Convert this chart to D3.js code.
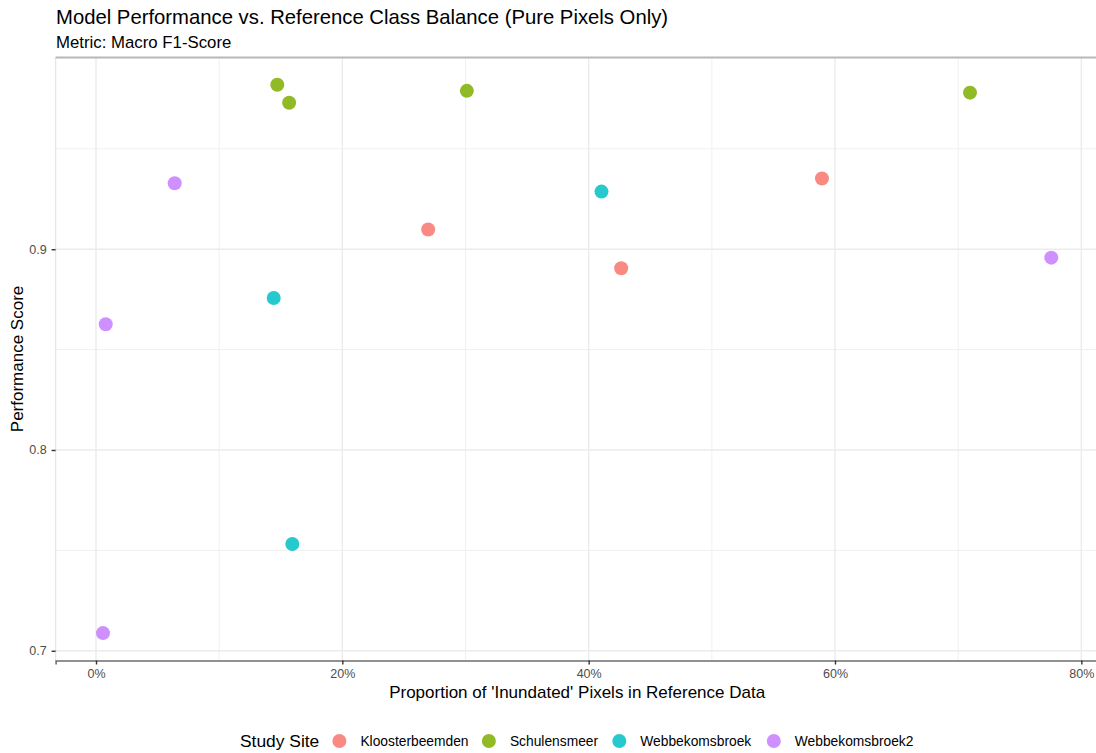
<!DOCTYPE html>
<html>
<head>
<meta charset="utf-8">
<script src="https://cdn.jsdelivr.net/npm/d3@7"></script>
<style>
  body { margin: 0; background: #fff; }
  svg { font-family: "Liberation Sans", Arial, sans-serif; }
</style>
</head>
<body>
<div class="scatter"></div>
<script>
// study sites and their runs: share of inundated reference pixels vs macro F1
var sites = ["Kloosterbeemden", "Schulensmeer", "Webbekomsbroek", "Webbekomsbroek2"];

var kloosterX = [0.2697, 0.4264, 0.5894];
var kloosterY = [0.9098, 0.8905, 0.9352];

var schulensX = [0.1472, 0.1568, 0.3011, 0.7096];
var schulensY = [0.9819, 0.9730, 0.9789, 0.9780];

var webbeX = [0.4104, 0.1443, 0.1594];
var webbeY = [0.9287, 0.8757, 0.7532];

var webbe2X = [0.0639, 0.0079, 0.0057, 0.7756];
var webbe2Y = [0.9329, 0.8626, 0.7088, 0.8958];

var xTicks = [0, 0.2, 0.4, 0.6, 0.8];
var xMinor = [0.1, 0.3, 0.5, 0.7];
var yTicks = [0.7, 0.8, 0.9];
var yMinor = [0.75, 0.85, 0.95];

var width = 1096,
    height = 753,
    panel = {left: 55.6, right: 1098.7, top: 57.4, bottom: 660.5};

var points = [];
[[kloosterX, kloosterY], [schulensX, schulensY], [webbeX, webbeY], [webbe2X, webbe2Y]]
    .forEach(function(s, i) {
        s[0].forEach(function(v, j) {
            points.push({site: sites[i], x: v, y: s[1][j]});
        });
    });

// ggplot style 5% expansion
function expand(ext) {
    var pad = (ext[1] - ext[0]) * 0.05;
    return [ext[0] - pad, ext[1] + pad];
}

var x = d3.scaleLinear()
    .domain(expand(d3.extent(points, function(d) { return d.x; })))
    .range([panel.left, panel.right]);

var y = d3.scaleLinear()
    .domain(expand(d3.extent(points, function(d) { return d.y; })))
    .range([panel.bottom, panel.top]);

var color = d3.scaleOrdinal()
    .domain(sites)
    .range(["#F8766D", "#7CAE00", "#00BFC4", "#C77CFF"]);

var svg = d3.select(".scatter")
    .append("svg")
    .attr("width", width)
    .attr("height", height);

// grid
var grid = svg.append("g");
grid.selectAll(".xminor").data(xMinor).enter().append("line")
    .attr("x1", x).attr("x2", x)
    .attr("y1", panel.top).attr("y2", panel.bottom)
    .attr("stroke", "#f0f0f0").attr("stroke-width", 1);
grid.selectAll(".yminor").data(yMinor).enter().append("line")
    .attr("y1", y).attr("y2", y)
    .attr("x1", panel.left).attr("x2", panel.right)
    .attr("stroke", "#f0f0f0").attr("stroke-width", 1);
grid.selectAll(".xmajor").data(xTicks).enter().append("line")
    .attr("x1", x).attr("x2", x)
    .attr("y1", panel.top).attr("y2", panel.bottom)
    .attr("stroke", "#ebebeb").attr("stroke-width", 1.4);
grid.selectAll(".ymajor").data(yTicks).enter().append("line")
    .attr("y1", y).attr("y2", y)
    .attr("x1", panel.left).attr("x2", panel.right)
    .attr("stroke", "#ebebeb").attr("stroke-width", 1.4);

// panel edges
svg.append("line")
    .attr("x1", panel.left).attr("x2", panel.left)
    .attr("y1", panel.top).attr("y2", panel.bottom)
    .attr("stroke", "#e6e6e6").attr("stroke-width", 1.4);
svg.append("line")
    .attr("x1", panel.left).attr("x2", panel.right)
    .attr("y1", panel.top).attr("y2", panel.top)
    .attr("stroke", "#b8b8b8").attr("stroke-width", 2);

// x-axis
var xAxis = svg.append("g")
    .attr("class", "axis")
    .attr("transform", "translate(0," + panel.bottom + ")")
    .call(d3.axisBottom(x).tickValues(xTicks).tickFormat(d3.format(".0%")).tickSizeOuter(0).tickSize(4).tickPadding(5));
xAxis.select(".domain").attr("stroke", "#6e6e6e").attr("stroke-width", 1.6);

// y-axis
var yAxis = svg.append("g")
    .attr("class", "axis")
    .attr("transform", "translate(" + panel.left + ",0)")
    .call(d3.axisLeft(y).tickValues(yTicks).tickFormat(d3.format(".1f")).tickSizeOuter(0).tickSize(4).tickPadding(5));
yAxis.select(".domain").remove();

svg.selectAll(".axis .tick line").attr("stroke", "#333").attr("stroke-width", 1.4);
svg.selectAll(".axis .tick text")
    .attr("fill", "#4d4d4d")
    .attr("font-size", 12.5)
    .attr("font-family", "Liberation Sans, Arial, sans-serif");

// points
svg.append("g")
    .selectAll("circle")
    .data(points)
    .enter().append("circle")
    .attr("cx", function(d) { return x(d.x); })
    .attr("cy", function(d) { return y(d.y); })
    .attr("r", 7)
    .attr("fill", function(d) { return color(d.site); })
    .attr("fill-opacity", 0.85);

// titles
svg.append("text")
    .attr("x", 56).attr("y", 24)
    .attr("font-size", 20.3)
    .attr("fill", "#000")
    .text("Model Performance vs. Reference Class Balance (Pure Pixels Only)");

svg.append("text")
    .attr("x", 56).attr("y", 48)
    .attr("font-size", 16.8)
    .attr("fill", "#000")
    .text("Metric: Macro F1-Score");

svg.append("text")
    .attr("x", (panel.left + panel.right) / 2).attr("y", 698)
    .attr("text-anchor", "middle")
    .attr("font-size", 17)
    .attr("fill", "#000")
    .text("Proportion of 'Inundated' Pixels in Reference Data");

svg.append("text")
    .attr("transform", "translate(23," + (panel.top + panel.bottom) / 2 + ") rotate(-90)")
    .attr("text-anchor", "middle")
    .attr("font-size", 17)
    .attr("fill", "#000")
    .text("Performance Score");

// legend
var legend = svg.append("g")
    .attr("transform", "translate(0,741)");

legend.append("text")
    .attr("x", 240)
    .attr("dy", "0.35em")
    .attr("font-size", 17.4)
    .attr("fill", "#000")
    .text("Study Site");

var keyX = [339.4, 488.9, 619.3, 773.8];

var key = legend.selectAll(".key")
    .data(sites)
    .enter().append("g")
    .attr("transform", function(d, i) { return "translate(" + keyX[i] + ",0)"; });

key.append("circle")
    .attr("r", 7)
    .attr("fill", color)
    .attr("fill-opacity", 0.85);

key.append("text")
    .attr("x", 21)
    .attr("dy", "0.35em")
    .attr("font-size", 13.8)
    .attr("fill", "#000")
    .text(function(d) { return d; });
</script>
</body>
</html>
